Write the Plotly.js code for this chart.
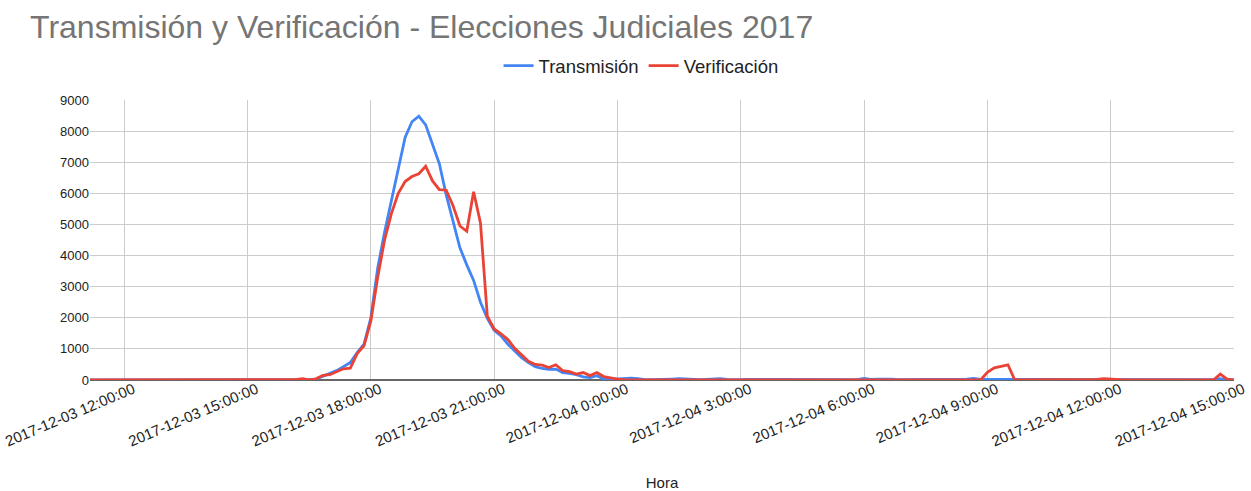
<!DOCTYPE html>
<html>
<head>
<meta charset="utf-8">
<script src="https://cdn.plot.ly/plotly-3.0.1.min.js"></script>
<style>html,body{margin:0;padding:0;background:#fff;}#chart{width:1251px;height:491px;}</style>
</head>
<body>
<div id="chart"></div>
<script>
// Timestamps (10-minute readings)
const horas = [
 "2017-12-03 11:10","2017-12-03 11:20","2017-12-03 11:30","2017-12-03 11:40","2017-12-03 11:50",
 "2017-12-03 12:00","2017-12-03 12:10","2017-12-03 12:20","2017-12-03 12:30","2017-12-03 12:40","2017-12-03 12:50",
 "2017-12-03 13:00","2017-12-03 13:10","2017-12-03 13:20","2017-12-03 13:30","2017-12-03 13:40","2017-12-03 13:50",
 "2017-12-03 14:00","2017-12-03 14:10","2017-12-03 14:20","2017-12-03 14:30","2017-12-03 14:40","2017-12-03 14:50",
 "2017-12-03 15:00","2017-12-03 15:10","2017-12-03 15:20","2017-12-03 15:30","2017-12-03 15:40","2017-12-03 15:50",
 "2017-12-03 16:00","2017-12-03 16:10","2017-12-03 16:20","2017-12-03 16:30","2017-12-03 16:40","2017-12-03 16:50",
 "2017-12-03 17:00","2017-12-03 17:10","2017-12-03 17:20","2017-12-03 17:30","2017-12-03 17:40","2017-12-03 17:50",
 "2017-12-03 18:00","2017-12-03 18:10","2017-12-03 18:20","2017-12-03 18:30","2017-12-03 18:40","2017-12-03 18:50",
 "2017-12-03 19:00","2017-12-03 19:10","2017-12-03 19:20","2017-12-03 19:30","2017-12-03 19:40","2017-12-03 19:50",
 "2017-12-03 20:00","2017-12-03 20:10","2017-12-03 20:20","2017-12-03 20:30","2017-12-03 20:40","2017-12-03 20:50",
 "2017-12-03 21:00","2017-12-03 21:10","2017-12-03 21:20","2017-12-03 21:30","2017-12-03 21:40","2017-12-03 21:50",
 "2017-12-03 22:00","2017-12-03 22:10","2017-12-03 22:20","2017-12-03 22:30","2017-12-03 22:40","2017-12-03 22:50",
 "2017-12-03 23:00","2017-12-03 23:10","2017-12-03 23:20","2017-12-03 23:30","2017-12-03 23:40","2017-12-03 23:50",
 "2017-12-04 00:00","2017-12-04 00:10","2017-12-04 00:20","2017-12-04 00:30","2017-12-04 00:40","2017-12-04 00:50",
 "2017-12-04 01:00","2017-12-04 01:10","2017-12-04 01:20","2017-12-04 01:30","2017-12-04 01:40","2017-12-04 01:50",
 "2017-12-04 02:00","2017-12-04 02:10","2017-12-04 02:20","2017-12-04 02:30","2017-12-04 02:40","2017-12-04 02:50",
 "2017-12-04 03:00","2017-12-04 03:10","2017-12-04 03:20","2017-12-04 03:30","2017-12-04 03:40","2017-12-04 03:50",
 "2017-12-04 04:00","2017-12-04 04:10","2017-12-04 04:20","2017-12-04 04:30","2017-12-04 04:40","2017-12-04 04:50",
 "2017-12-04 05:00","2017-12-04 05:10","2017-12-04 05:20","2017-12-04 05:30","2017-12-04 05:40","2017-12-04 05:50",
 "2017-12-04 06:00","2017-12-04 06:10","2017-12-04 06:20","2017-12-04 06:30","2017-12-04 06:40","2017-12-04 06:50",
 "2017-12-04 07:00","2017-12-04 07:10","2017-12-04 07:20","2017-12-04 07:30","2017-12-04 07:40","2017-12-04 07:50",
 "2017-12-04 08:00","2017-12-04 08:10","2017-12-04 08:20","2017-12-04 08:30","2017-12-04 08:40","2017-12-04 08:50",
 "2017-12-04 09:00","2017-12-04 09:10","2017-12-04 09:20","2017-12-04 09:30","2017-12-04 09:40","2017-12-04 09:50",
 "2017-12-04 10:00","2017-12-04 10:10","2017-12-04 10:20","2017-12-04 10:30","2017-12-04 10:40","2017-12-04 10:50",
 "2017-12-04 11:00","2017-12-04 11:10","2017-12-04 11:20","2017-12-04 11:30","2017-12-04 11:40","2017-12-04 11:50",
 "2017-12-04 12:00","2017-12-04 12:10","2017-12-04 12:20","2017-12-04 12:30","2017-12-04 12:40","2017-12-04 12:50",
 "2017-12-04 13:00","2017-12-04 13:10","2017-12-04 13:20","2017-12-04 13:30","2017-12-04 13:40","2017-12-04 13:50",
 "2017-12-04 14:00","2017-12-04 14:10","2017-12-04 14:20","2017-12-04 14:30","2017-12-04 14:40","2017-12-04 14:50",
 "2017-12-04 15:00"
];

const transmision = [
 0,0,0,0,0,
 0,0,0,0,0,0,
 0,0,0,0,0,0,
 0,0,0,0,0,0,
 0,0,0,0,0,0,
 0,0,10,10,30,120,
 220,300,430,560,880,1150,
 2000,3600,4750,5750,6750,7800,
 8300,8480,8200,7600,6950,5950,
 5100,4250,3700,3200,2500,1980,
 1600,1420,1150,920,720,560,
 430,370,340,350,240,210,
 170,100,80,140,30,20,
 30,50,60,40,10,10,
 10,20,30,40,30,10,
 10,20,30,40,20,10,
 10,20,20,10,10,10,
 10,10,20,10,10,10,
 10,10,10,20,10,10,
 50,20,30,40,30,10,
 10,20,30,30,10,20,
 30,10,10,30,50,20,
 20,20,20,20,10,10,
 10,10,10,10,10,10,
 10,10,10,10,10,10,
 10,10,10,10,10,10,
 20,20,20,20,10,10,
 10,10,10,10,40,0,
 0
];

const verificacion = [
 0,0,0,0,0,
 0,0,0,0,0,0,
 0,0,0,0,0,0,
 0,0,0,0,0,0,
 0,0,0,20,10,0,
 0,10,40,0,40,150,
 170,270,360,380,850,1100,
 1900,3300,4500,5350,6000,6380,
 6540,6630,6870,6400,6120,6100,
 5600,4950,4780,6050,5050,2050,
 1640,1480,1300,1020,800,600,
 500,480,400,490,300,270,
 190,240,140,240,110,60,
 30,10,0,0,0,0,
 0,0,0,0,0,0,
 0,0,0,10,0,0,
 0,0,0,0,0,0,
 0,0,0,0,0,0,
 0,0,0,0,0,0,
 0,0,0,0,0,0,
 0,0,0,0,0,0,
 0,0,0,0,0,0,
 250,390,440,490,0,0,
 0,0,0,0,0,0,
 0,0,10,10,20,40,
 20,10,0,0,0,0,
 0,0,0,0,0,0,
 0,0,0,0,190,30,
 0
];

const tickHoras = [
 "2017-12-03 12:00","2017-12-03 15:00","2017-12-03 18:00","2017-12-03 21:00",
 "2017-12-04 00:00","2017-12-04 03:00","2017-12-04 06:00","2017-12-04 09:00",
 "2017-12-04 12:00","2017-12-04 15:00"
];
const tickEtiquetas = [
 "2017-12-03 12:00:00","2017-12-03 15:00:00","2017-12-03 18:00:00","2017-12-03 21:00:00",
 "2017-12-04 0:00:00","2017-12-04 3:00:00","2017-12-04 6:00:00","2017-12-04 9:00:00",
 "2017-12-04 12:00:00","2017-12-04 15:00:00"
];

const FONT = "Liberation Sans, Arial, sans-serif";

const traces = [
 {x: horas, y: transmision, name: "Transmisión", type: "scatter", mode: "lines",
  line: {color: "#4285F4", width: 2.8}},
 {x: horas, y: verificacion, name: "Verificación", type: "scatter", mode: "lines",
  line: {color: "#EA4335", width: 2.8}}
];

const layout = {
 width: 1251, height: 491,
 margin: {l: 90, r: 17, t: 100, b: 111},
 paper_bgcolor: "#fff", plot_bgcolor: "#fff",
 font: {family: FONT, color: "#444"},
 title: {text: "Transmisión y Verificación - Elecciones Judiciales 2017",
  font: {family: FONT, size: 32, color: "#757575"},
  x: 0.024, xanchor: "left", xref: "container", y: 0.945, yanchor: "middle", yref: "container"},
 showlegend: true,
 legend: {orientation: "h", x: 0.4817, xanchor: "center", y: 1.121, yanchor: "middle",
  font: {family: FONT, size: 18.5, color: "#222"}, itemwidth: 30, traceorder: "normal"},
 xaxis: {
  type: "date",
  range: ["2017-12-03 11:10", "2017-12-04 15:00"],
  tickmode: "array", tickvals: tickHoras, ticktext: tickEtiquetas,
  tickangle: -23, tickfont: {family: FONT, size: 15, color: "#222"},
  ticklabelshift: 9, ticklabelstandoff: -3,
  showgrid: true, gridcolor: "#cccccc", gridwidth: 1,
  showline: false, zeroline: false, ticks: "",
  automargin: false,
  title: {text: "Hora", font: {family: FONT, size: 15, color: "#222"}, standoff: 28}
 },
 yaxis: {
  range: [0, 9000], dtick: 1000, tickformat: "d",
  tickfont: {family: FONT, size: 13, color: "#222"},
  showgrid: true, gridcolor: "#cccccc", gridwidth: 1,
  zeroline: true, zerolinecolor: "#666", zerolinewidth: 1.5,
  showline: false, ticks: "", automargin: false
 }
};

Plotly.newPlot("chart", traces, layout, {displayModeBar: false, responsive: false});
</script>
</body>
</html>
